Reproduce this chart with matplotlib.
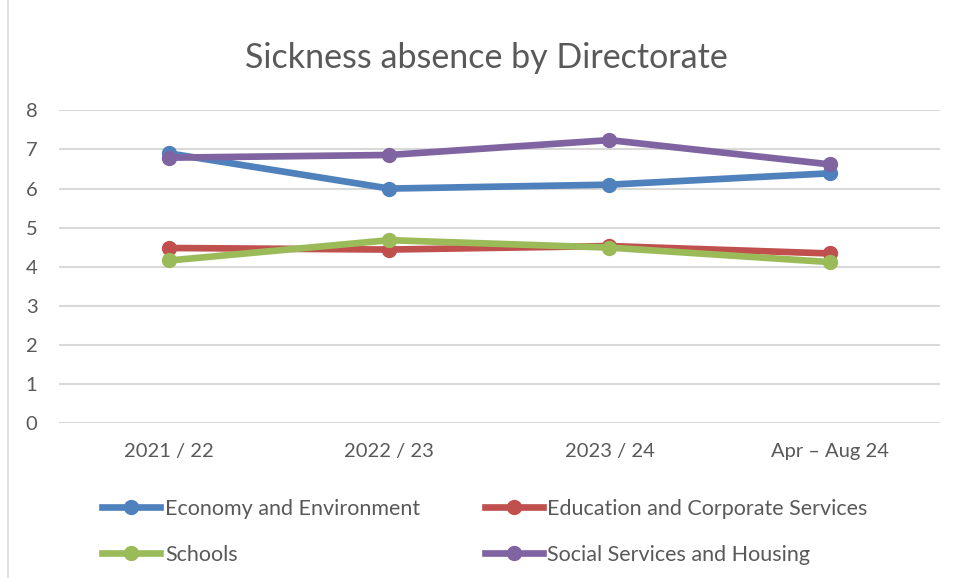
"""Sickness absence by Directorate - line chart."""

import matplotlib

matplotlib.use("Agg")
import matplotlib.pyplot as plt  # noqa: E402
from matplotlib.lines import Line2D  # noqa: E402

periods = ["2021 / 22", "2022 / 23", "2023 / 24", "Apr – Aug 24"]
economy_environment = [6.90, 6.00, 6.10, 6.39]
education_corporate = [4.48, 4.44, 4.53, 4.34]
schools = [4.16, 4.68, 4.49, 4.12]
social_services_housing = [6.79, 6.86, 7.24, 6.62]

series = [
    ("Economy and Environment", economy_environment, "#4F81BD"),
    ("Education and Corporate Services", education_corporate, "#C0504D"),
    ("Schools", schools, "#9BBB59"),
    ("Social Services and Housing", social_services_housing, "#8064A2"),
]

TEXT_COLOR = "#595959"
plt.rcParams["font.family"] = ["Lato", "DejaVu Sans"]

fig = plt.figure(figsize=(9.54, 5.78), dpi=100)
ax = fig.add_axes([0.062, 0.268, 0.923, 0.541])

x = list(range(len(periods)))
for name, values, color in series:
    ax.plot(x, values, color=color, linewidth=4.8, marker="o", markersize=10,
            label=name, solid_capstyle="round", zorder=3)

ax.set_xlim(-0.5, len(periods) - 0.5)
ax.set_ylim(0, 8)
ax.set_yticks(range(0, 9))
ax.set_xticks(x)
ax.set_xticklabels(periods)
ax.tick_params(axis="both", length=0, labelsize=14.5, colors=TEXT_COLOR)
ax.tick_params(axis="x", pad=14)
ax.tick_params(axis="y", pad=24)
for label in ax.get_yticklabels():
    label.set_horizontalalignment("left")
ax.grid(axis="y", color="#D9D9D9", linewidth=1.5)
ax.set_axisbelow(True)
for spine in ax.spines.values():
    spine.set_visible(False)

fig.text(0.510, 0.9, "Sickness absence by Directorate", ha="center", va="center",
         fontsize=24.5, color=TEXT_COLOR)

# legend is filled row by row: Economy, Education / Schools, Social
order = [0, 2, 1, 3]
handles = [Line2D([0], [0], color=series[i][2], linewidth=4.8, marker="o", markersize=10)
           for i in order]
labels = [series[i][0] for i in order]
fig.legend(handles, labels, loc="center left", bbox_to_anchor=(0.087, 0.08), ncol=2,
           frameon=False, fontsize=15.5, labelcolor=TEXT_COLOR, handlelength=2.7,
           handletextpad=0.2, columnspacing=3.0, labelspacing=1.2)

# chart border on the left edge
fig.add_artist(Line2D([0.008, 0.008], [0.0, 1.0], color="#D9D9D9", linewidth=1.2,
                      transform=fig.transFigure))

fig.savefig("out.png", dpi=100)
